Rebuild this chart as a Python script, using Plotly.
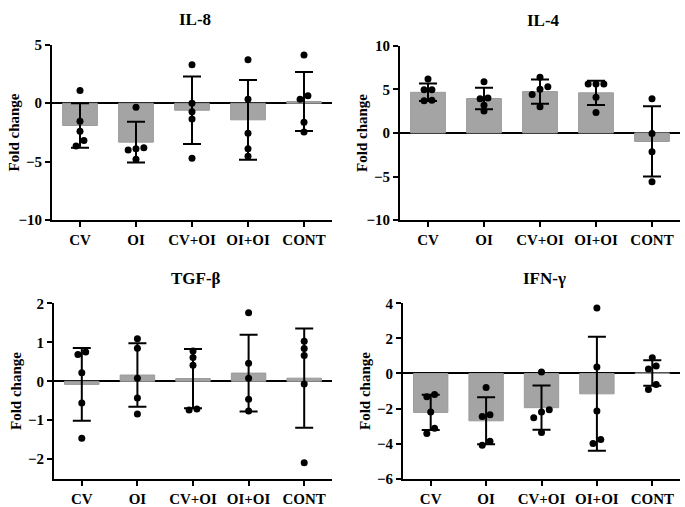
import plotly.graph_objects as go

categories = ["CV", "OI", "CV+OI", "OI+OI", "CONT"]
panel_titles = ["IL-8", "IL-4", "TGF-β", "IFN-γ"]

il8_mean = [-1.9, -3.33, -0.6, -1.42, 0.15]
il8_sd = [1.9, 1.74, 2.88, 3.41, 2.52]
il8_pts = [[1.08, -1.55, -2.4, -3.2, -3.65],
           [-0.35, -3.9, -4.0, -3.8, -4.8],
           [3.29, 0.0, -0.72, -1.35, -4.7],
           [3.73, 0.33, -2.57, -3.9, -4.53],
           [4.12, 0.33, 0.64, -1.63, -2.46]]

il4_mean = [4.66, 3.95, 4.74, 4.6, -0.98]
il4_sd = [1.0, 1.23, 1.38, 1.39, 4.03]
il4_pts = [[6.2, 4.95, 4.95, 3.75, 3.7],
           [5.86, 3.93, 4.0, 3.19, 2.52],
           [6.4, 5.3, 5.0, 4.4, 3.0],
           [5.6, 5.6, 5.6, 4.1, 2.35],
           [3.93, -0.07, -2.15, -5.6]]

tgf_mean = [-0.08, 0.16, 0.07, 0.21, 0.08]
tgf_sd = [0.935, 0.815, 0.76, 0.985, 1.275]
tgf_pts = [[0.75, 0.69, 0.22, -0.56, -1.46],
           [1.09, 0.85, 0.08, -0.43, -0.84],
           [0.78, 0.61, 0.41, -0.74, -0.71],
           [1.76, 0.46, 0.08, -0.46, -0.76],
           [1.03, 0.84, 0.66, -0.07, -2.09]]

ifn_mean = [-2.22, -2.7, -1.95, -1.16, 0.03]
ifn_sd = [1.0, 1.34, 1.265, 3.25, 0.73]
ifn_pts = [[-1.2, -1.33, -2.2, -3.13, -3.42],
           [-0.8, -2.35, -2.45, -3.87, -4.1],
           [0.09, -2.07, -2.2, -2.53, -3.36],
           [3.73, 0.37, -2.14, -3.77, -4.0],
           [0.9, 0.43, 0.26, -0.63, -0.91]]

y_ranges = [[-10, 5], [-10, 10], [-2.5, 2], [-6, 4]]
y_ticks = [[-10, -5, 0, 5], [-10, -5, 0, 5, 10], [-2, -1, 0, 1, 2], [-6, -4, -2, 0, 2, 4]]

W, H = 685, 507
# pixel boxes: x0, x1, ytop, ybottom
boxes = [(52, 332, 38, 219), (400, 680, 39, 219), (54, 332, 305, 486), (403, 680, 305, 486)]

panels = [(il8_mean, il8_sd, il8_pts), (il4_mean, il4_sd, il4_pts),
          (tgf_mean, tgf_sd, tgf_pts), (ifn_mean, ifn_sd, ifn_pts)]

FONT = "Liberation Serif, Times New Roman, serif"
fig = go.Figure()
layout = dict(width=W, height=H, margin=dict(l=0, r=0, t=0, b=0, pad=0),
              plot_bgcolor="white", paper_bgcolor="white", showlegend=False,
              font=dict(family=FONT, color="black"))
annotations = []


def spread(vals, tol):
    # small horizontal offsets for overlapping points (layout only)
    offs = [0.0] * len(vals)
    order = sorted(range(len(vals)), key=lambda i: vals[i])
    groups, cur = [], [order[0]]
    for i in order[1:]:
        if abs(vals[i] - vals[cur[-1]]) < tol:
            cur.append(i)
        else:
            groups.append(cur)
            cur = [i]
    groups.append(cur)
    for g in groups:
        n = len(g)
        for k, i in enumerate(g):
            offs[i] = (k - (n - 1) / 2) * 0.14
    return offs


for p, ((mean, sd, pts), (x0, x1, yt, yb)) in enumerate(zip(panels, boxes)):
    xa = "x" if p == 0 else f"x{p+1}"
    ya = "y" if p == 0 else f"y{p+1}"
    xk = "xaxis" if p == 0 else f"xaxis{p+1}"
    yk = "yaxis" if p == 0 else f"yaxis{p+1}"
    idx = list(range(len(categories)))
    fig.add_trace(go.Bar(x=idx, y=mean, width=0.62, xaxis=xa, yaxis=ya,
                         marker=dict(color="#a4a4a4", line=dict(color="#9a9a9a", width=1)),
                         hoverinfo="skip"))
    fig.add_trace(go.Scatter(x=idx, y=mean, mode="markers", xaxis=xa, yaxis=ya,
                             marker=dict(size=1, color="rgba(0,0,0,0)"),
                             error_y=dict(type="data", array=sd, visible=True,
                                          color="black", thickness=2, width=9)))
    rng = y_ranges[p]
    tol = (rng[1] - rng[0]) / (yb - yt) * 6
    px, py = [], []
    for i, vals in enumerate(pts):
        offs = spread(vals, tol)
        for v, o in zip(vals, offs):
            px.append(i + o)
            py.append(v)
    fig.add_trace(go.Scatter(x=px, y=py, mode="markers", xaxis=xa, yaxis=ya,
                             marker=dict(size=7, color="black")))
    layout[xk] = dict(domain=[x0 / W, x1 / W], anchor=ya, range=[-0.5, 4.5],
                      tickmode="array", tickvals=idx, ticktext=categories,
                      showline=True, linecolor="black", linewidth=2,
                      ticks="outside", ticklen=5, tickwidth=2, tickcolor="black",
                      showgrid=False, zeroline=False,
                      tickfont=dict(family=FONT, size=15, color="black", weight="bold"))
    layout[yk] = dict(domain=[1 - yb / H, 1 - yt / H], anchor=xa, range=rng,
                      tickmode="array", tickvals=y_ticks[p],
                      showline=True, linecolor="black", linewidth=2,
                      ticks="outside", ticklen=5, tickwidth=2, tickcolor="black",
                      showgrid=False, zeroline=True, zerolinecolor="black",
                      zerolinewidth=2,
                      tickfont=dict(family=FONT, size=15, color="black", weight="bold"))
    annotations.append(dict(text=f"<b>{panel_titles[p]}</b>", x=(x0 + x1) / 2 / W + 0.005,
                            y=1 - (yt - 26) / H, xref="paper", yref="paper",
                            xanchor="center", yanchor="middle",
                            showarrow=False, font=dict(family=FONT, size=17)))
    annotations.append(dict(text="<b>Fold change</b>", x=(x0 - 38) / W,
                            y=1 - (yt + yb) / 2 / H, xref="paper", yref="paper",
                            xanchor="center", yanchor="middle",
                            textangle=-90, showarrow=False,
                            font=dict(family=FONT, size=15)))

layout["annotations"] = annotations
fig.update_layout(**layout)
fig.write_html("out.html", config={"displayModeBar": False})

with open("out.html", "r", encoding="utf-8") as f:
    html = f.read()
html = html.replace("<head>", "<head><style>html,body{margin:0;padding:0;overflow:hidden;}</style>", 1)
with open("out.html", "w", encoding="utf-8") as f:
    f.write(html)
